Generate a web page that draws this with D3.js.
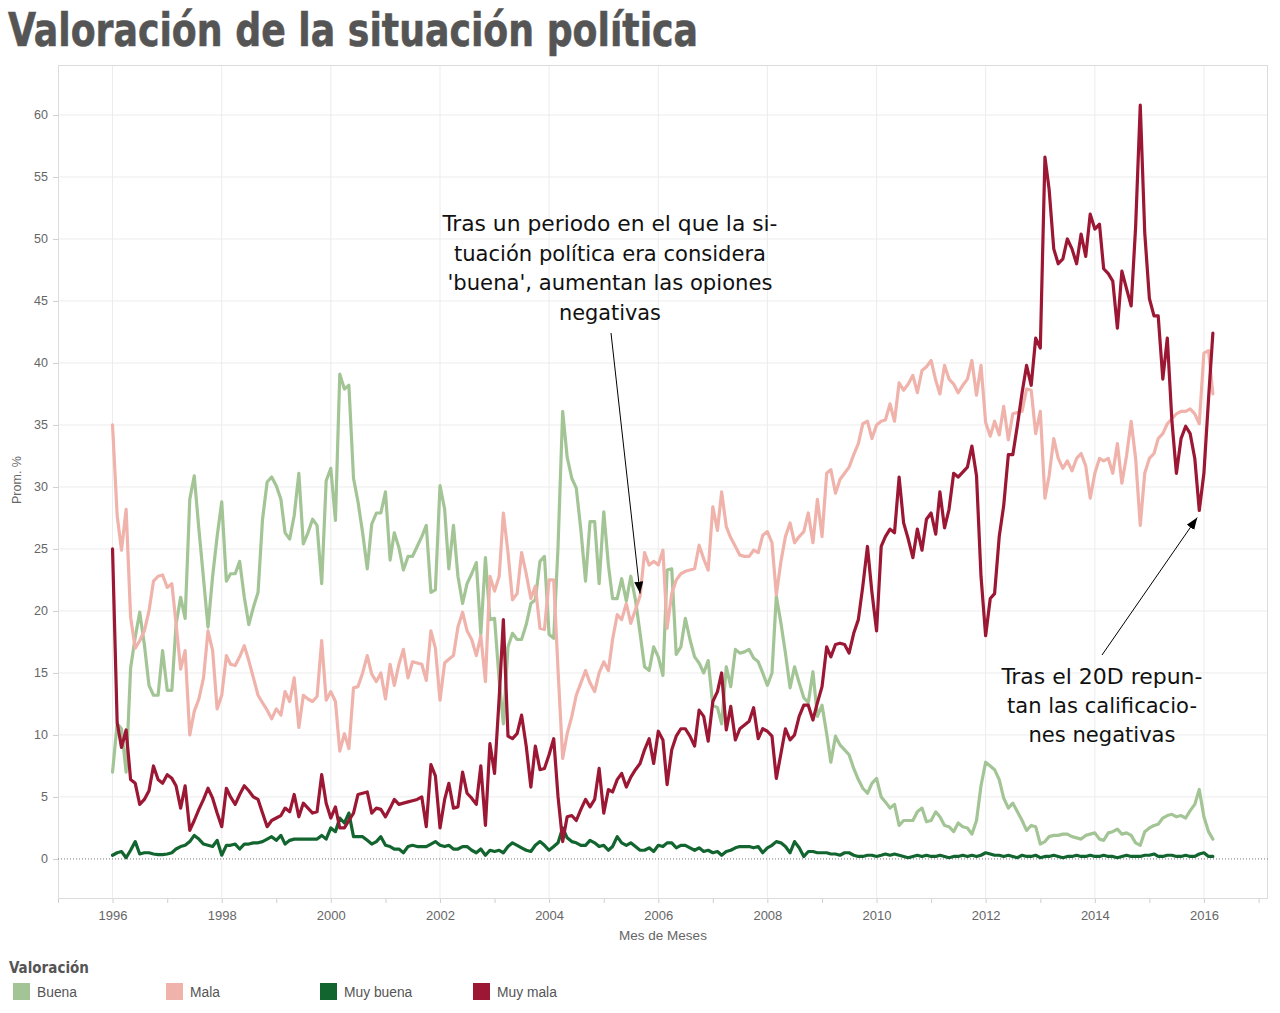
<!DOCTYPE html>
<html><head><meta charset="utf-8">
<script src="https://cdn.jsdelivr.net/npm/d3@7"></script>
<style>body{margin:0;background:#fff;} svg{display:block;}</style>
</head><body><svg id="chart" width="1280" height="1013"></svg>
<script>
// ---------- DATA ----------
const months = d3.timeMonth.range(new Date(1996, 0, 1), new Date(2016, 3, 1)); // Jan 1996 .. Mar 2016

const buena = [
  7.0, 10.9, 10.5, 7.0, 15.4, 17.9, 19.9, 17.3, 14.0, 13.2, 13.2, 16.8,
  13.6, 13.6, 18.9, 21.1, 19.4, 29.0, 30.9, 26.6, 22.6, 18.7, 22.8, 26.0,
  28.8, 22.4, 23.0, 23.0, 24.0, 21.1, 18.9, 20.3, 21.5, 27.4, 30.4, 30.8,
  30.1, 29.0, 26.3, 25.8, 27.7, 31.1, 25.4, 26.3, 27.4, 26.9, 22.2, 30.5,
  31.5, 27.3, 39.1, 37.9, 38.2, 30.7, 28.8, 26.3, 23.4, 27.0, 27.9, 27.9,
  29.6, 24.1, 26.3, 25.1, 23.3, 24.4, 24.4, 25.2, 26.0, 26.9, 21.5, 21.7,
  30.1, 28.2, 23.4, 26.9, 22.8, 20.6, 22.2, 23.0, 23.9, 18.1, 24.3, 19.3,
  19.4, 14.4, 10.9, 17.1, 18.2, 17.7, 17.7, 18.9, 20.6, 20.9, 24.0, 24.4,
  18.1, 17.8, 25.2, 36.1, 32.4, 30.7, 29.9, 26.5, 22.4, 27.2, 27.2, 22.2,
  28.0, 23.7, 21.0, 21.0, 22.6, 20.8, 22.8, 20.9, 18.2, 15.5, 15.2, 17.1,
  16.3, 14.8, 23.3, 23.4, 16.5, 17.1, 19.4, 17.7, 16.3, 15.8, 15.0, 16.0,
  12.4, 12.2, 10.9, 15.5, 13.9, 16.9, 16.6, 16.7, 16.9, 16.2, 15.9, 15.0,
  14.0, 15.0, 21.2, 19.0, 16.6, 13.8, 15.5, 14.2, 13.0, 12.6, 15.1, 11.5,
  12.4, 10.1, 7.8, 9.9, 9.2, 8.8, 8.4, 7.3, 6.4, 5.7, 5.3, 6.1,
  6.5, 5.0, 4.6, 4.1, 4.4, 2.7, 3.1, 3.1, 3.1, 3.8, 4.1, 3.0,
  3.1, 3.8, 3.4, 2.7, 2.6, 2.2, 2.9, 2.6, 2.5, 2.0, 3.1, 5.9,
  7.8, 7.5, 7.2, 6.4, 4.9, 4.1, 4.5, 3.8, 3.1, 2.3, 2.7, 2.6,
  1.2, 1.4, 1.8, 1.9, 1.9, 2.0, 2.0, 1.8, 1.7, 1.6, 1.9, 2.0,
  2.1, 1.6, 1.5, 2.1, 2.2, 2.4, 2.0, 2.1, 1.9, 1.3, 1.1, 2.2,
  2.5, 2.7, 2.8, 3.3, 3.5, 3.6, 3.4, 3.5, 3.3, 3.9, 4.4, 5.6,
  3.4, 2.2, 1.6
];

const mala = [
  35.0, 27.7, 24.9, 28.2, 19.5, 17.0, 17.6, 18.4, 20.0, 22.4, 22.8, 22.9,
  21.9, 22.2, 19.0, 15.3, 16.8, 10.0, 11.9, 12.9, 14.6, 18.4, 16.8, 12.1,
  13.2, 16.4, 15.7, 15.6, 16.3, 17.2, 16.0, 14.6, 13.2, 12.6, 12.0, 11.3,
  12.1, 11.6, 13.5, 12.7, 14.6, 10.6, 13.2, 12.9, 12.7, 13.1, 17.6, 12.8,
  13.5, 12.7, 8.7, 10.1, 8.9, 13.8, 13.9, 15.0, 16.4, 14.9, 14.3, 15.0,
  12.9, 15.7, 14.0, 15.7, 16.9, 14.6, 15.9, 15.8, 15.7, 14.4, 18.4, 17.0,
  12.8, 15.8, 16.1, 16.4, 18.7, 19.9, 18.4, 17.7, 16.4, 18.0, 14.3, 22.8,
  21.6, 22.8, 27.9, 24.7, 20.9, 21.4, 24.7, 23.0, 21.0, 22.0, 18.6, 18.5,
  22.5, 22.5, 15.2, 8.1, 10.1, 11.5, 13.2, 14.2, 15.2, 14.2, 13.5, 15.0,
  15.9, 15.2, 17.7, 19.7, 19.3, 20.6, 19.0, 20.1, 21.2, 24.7, 23.7, 24.0,
  23.7, 24.9, 18.6, 21.4, 22.5, 23.0, 23.2, 23.3, 23.4, 25.3, 24.2, 23.3,
  28.4, 26.5, 29.6, 26.8, 25.9, 25.2, 24.5, 24.4, 24.4, 24.9, 24.7, 26.1,
  26.4, 25.5, 21.3, 24.0, 26.0, 27.1, 25.5, 26.0, 26.4, 27.9, 25.5, 29.0,
  26.0, 31.1, 31.4, 29.5, 30.6, 31.1, 31.6, 32.6, 33.5, 35.1, 35.3, 33.9,
  35.0, 35.3, 35.4, 36.7, 35.3, 38.4, 37.8, 38.3, 39.0, 37.6, 39.4, 39.7,
  40.2, 38.6, 37.5, 39.8, 38.7, 38.3, 37.6, 38.2, 38.7, 40.2, 37.4, 39.8,
  35.2, 34.1, 35.3, 34.2, 36.5, 33.8, 35.9, 36.0, 36.1, 37.9, 37.8, 34.3,
  36.1, 29.1, 30.9, 33.9, 32.3, 31.5, 32.1, 31.3, 32.3, 32.7, 31.7, 29.1,
  31.1, 32.3, 32.1, 32.3, 31.1, 33.5, 30.3, 32.5, 35.3, 32.3, 26.9, 31.1,
  32.3, 32.7, 33.9, 34.3, 35.1, 35.5, 35.9, 36.1, 36.1, 36.3, 35.9, 35.1,
  40.8, 41.0, 37.5
];

const muyBuena = [
  0.3, 0.5, 0.6, 0.1, 0.7, 1.4, 0.4, 0.5, 0.5, 0.4, 0.35, 0.35,
  0.4, 0.5, 0.8, 1.0, 1.1, 1.4, 1.9, 1.6, 1.2, 1.1, 1.0, 1.5,
  0.3, 1.1, 1.1, 1.2, 0.8, 1.2, 1.2, 1.3, 1.3, 1.4, 1.6, 1.8,
  1.5, 1.9, 1.2, 1.5, 1.6, 1.6, 1.6, 1.6, 1.6, 1.6, 1.9, 1.6,
  2.5, 2.2, 3.3, 2.9, 3.7, 1.8, 1.8, 1.8, 1.5, 1.2, 1.4, 1.8,
  1.1, 1.0, 0.8, 0.8, 0.5, 1.0, 1.1, 1.0, 1.0, 1.0, 1.2, 1.4,
  1.1, 1.0, 1.1, 0.8, 0.8, 1.0, 1.0, 0.7, 0.5, 0.8, 0.3, 0.7,
  0.6, 0.7, 0.5, 1.0, 1.3, 1.1, 0.9, 0.7, 0.6, 1.1, 1.4, 1.1,
  0.7, 1.0, 1.3, 2.5, 1.7, 1.4, 1.3, 1.1, 1.1, 1.5, 1.3, 1.0,
  1.1, 0.7, 1.0, 1.8, 1.3, 1.1, 1.3, 1.0, 0.7, 0.7, 0.9, 0.6,
  1.1, 1.0, 1.3, 1.3, 0.9, 1.1, 1.1, 0.9, 0.7, 0.9, 0.6, 0.7,
  0.5, 0.6, 0.3, 0.6, 0.7, 0.9, 1.0, 1.0, 1.0, 0.9, 1.0, 0.5,
  0.9, 1.1, 1.4, 1.3, 1.0, 0.5, 1.4, 0.9, 0.2, 0.6, 0.6, 0.5,
  0.5, 0.5, 0.4, 0.4, 0.3, 0.5, 0.5, 0.3, 0.2, 0.2, 0.3, 0.3,
  0.2, 0.3, 0.4, 0.3, 0.4, 0.3, 0.2, 0.1, 0.2, 0.3, 0.2, 0.3,
  0.2, 0.2, 0.3, 0.2, 0.1, 0.2, 0.2, 0.3, 0.2, 0.3, 0.2, 0.3,
  0.5, 0.4, 0.3, 0.3, 0.2, 0.3, 0.2, 0.1, 0.3, 0.2, 0.2, 0.3,
  0.1, 0.2, 0.2, 0.3, 0.2, 0.1, 0.2, 0.2, 0.3, 0.2, 0.2, 0.3,
  0.2, 0.2, 0.3, 0.2, 0.2, 0.1, 0.2, 0.3, 0.2, 0.2, 0.2, 0.3,
  0.3, 0.4, 0.2, 0.2, 0.3, 0.3, 0.2, 0.2, 0.3, 0.2, 0.2, 0.4,
  0.5, 0.2, 0.2
];

const muyMala = [
  25.0, 11.0, 9.0, 10.4, 6.4, 6.1, 4.4, 4.8, 5.5, 7.5, 6.4, 6.1,
  6.8, 6.5, 5.9, 4.1, 5.9, 2.3, 3.1, 4.0, 4.8, 5.7, 4.9, 3.7,
  2.6, 5.7, 5.0, 4.4, 5.2, 5.9, 5.5, 5.0, 4.8, 3.7, 2.6, 3.1,
  3.3, 3.5, 4.1, 3.8, 5.2, 3.4, 4.5, 4.1, 3.7, 3.8, 6.8, 4.5,
  3.3, 4.2, 2.5, 2.5, 3.1, 3.7, 5.2, 5.3, 5.4, 3.7, 4.1, 4.0,
  3.4, 4.1, 4.8, 4.4, 4.5, 4.6, 4.7, 4.8, 5.0, 2.6, 7.6, 6.7,
  2.5, 4.8, 6.1, 4.1, 4.2, 7.0, 5.3, 4.9, 4.4, 7.5, 2.7, 9.3,
  6.9, 13.0, 19.3, 9.9, 9.7, 10.1, 11.6, 9.1, 5.8, 9.1, 7.2, 7.3,
  8.4, 9.7, 5.0, 1.4, 3.4, 3.5, 3.1, 4.0, 4.8, 4.2, 4.8, 7.3,
  3.7, 5.6, 5.4, 6.4, 6.9, 5.8, 6.6, 7.2, 7.7, 8.8, 9.7, 7.7,
  10.3, 9.6, 6.0, 8.8, 9.9, 10.5, 10.5, 9.9, 9.1, 12.0, 11.5, 9.5,
  12.7, 13.5, 15.0, 10.4, 12.3, 9.6, 10.5, 10.8, 11.1, 12.2, 9.7, 10.5,
  10.3, 9.9, 6.5, 8.5, 10.5, 9.6, 10.0, 11.5, 12.4, 12.4, 11.2, 12.6,
  13.9, 17.1, 16.3, 17.3, 17.4, 17.3, 16.6, 18.2, 19.3, 22.0, 25.2, 21.5,
  18.4, 25.2, 26.0, 26.6, 26.3, 30.8, 27.1, 25.8, 24.3, 26.6, 24.9, 27.4,
  27.9, 26.2, 29.6, 26.7, 28.2, 31.1, 30.8, 31.2, 31.6, 33.3, 30.9, 22.8,
  18.0, 21.0, 21.4, 26.0, 28.5, 32.6, 32.6, 35.0, 37.6, 39.8, 38.2, 42.0,
  41.2, 56.6, 54.0, 49.2, 48.0, 48.4, 50.0, 49.2, 48.0, 50.4, 48.6, 52.0,
  50.8, 51.2, 47.6, 47.2, 46.6, 42.8, 47.4, 46.0, 44.6, 51.0, 60.8, 50.5,
  45.2, 43.8, 43.8, 38.7, 42.0, 35.3, 31.1, 33.9, 34.9, 34.3, 32.3, 28.1,
  31.1, 37.1, 42.4
];

const seriesNames = ["Buena", "Mala", "Muy buena", "Muy mala"];
const seriesValues = [buena, mala, muyBuena, muyMala];
const seriesColors = ["#a3c596", "#f0b3ab", "#12652f", "#9b1733"];
const yTickValues = [0, 5, 10, 15, 20, 25, 30, 35, 40, 45, 50, 55, 60];
const xLabelYears = [1996, 1998, 2000, 2002, 2004, 2006, 2008, 2010, 2012, 2014, 2016];

const titleText = "Valoración de la situación política";
const yAxisTitle = "Prom. %";
const xAxisTitle = "Mes de Meses";
const legendTitle = "Valoración";
const note1Lines = ["Tras un periodo en el que la si-", "tuación política era considera", "'buena', aumentan las opiones", "negativas"];
const note2Lines = ["Tras el 20D repun-", "tan las calificacio-", "nes negativas"];
const note1Target = {date: new Date(2005, 8, 1), value: 21.4};
const note2Target = {date: new Date(2015, 11, 1), value: 27.7};

// ---------- LAYOUT ----------
const L = 58, R = 1268, T = 65, B = 899;
const svg = d3.select("#chart");
const axisFont = "'Liberation Sans', Arial, sans-serif";

const x = d3.scaleTime().domain([new Date(1995, 0, 1), new Date(2017, 2, 5)]).range([L, R]);
const y = d3.scaleLinear().domain([-3.23, 64.03]).range([B, T]);

// Title
svg.append("text").attr("x", 8).attr("y", 46)
  .attr("font-family", "'Liberation Sans Narrow', 'DejaVu Sans Condensed', sans-serif")
  .attr("font-weight", "bold").attr("font-size", 46).attr("fill", "#555")
  .attr("stroke", "#555").attr("stroke-width", 0.6)
  .attr("textLength", 690).attr("lengthAdjust", "spacingAndGlyphs")
  .text(titleText);

// Gridlines
const grid = svg.append("g");
grid.selectAll("line.h").data(yTickValues.filter(d => d !== 0)).join("line")
  .attr("x1", L).attr("x2", R).attr("y1", d => y(d)).attr("y2", d => y(d))
  .attr("stroke", "#ececec").attr("stroke-width", 1);
grid.selectAll("line.v").data(xLabelYears).join("line")
  .attr("x1", d => x(new Date(d, 0, 1))).attr("x2", d => x(new Date(d, 0, 1)))
  .attr("y1", T).attr("y2", B)
  .attr("stroke", "#ececec").attr("stroke-width", 1);

// Frame
svg.append("rect").attr("x", L + 0.5).attr("y", T + 0.5).attr("width", R - L - 1).attr("height", B - T - 1)
  .attr("fill", "none").attr("stroke", "#dcdcdc");

// Zero line
svg.append("line").attr("x1", L).attr("x2", R).attr("y1", y(0)).attr("y2", y(0))
  .attr("stroke", "#777").attr("stroke-width", 1).attr("stroke-dasharray", "1,2");

// Y axis
const yAxis = svg.append("g").attr("transform", `translate(${L},0)`)
  .call(d3.axisLeft(y).tickValues(yTickValues).tickSize(5).tickPadding(5));
yAxis.select(".domain").remove();
yAxis.selectAll("line").attr("stroke", "#cfcfcf");
yAxis.selectAll("text").attr("font-family", axisFont).attr("font-size", 12.5).attr("fill", "#666");

svg.append("text").attr("transform", `translate(21,${(T + B) / 2 - 2}) rotate(-90)`)
  .attr("text-anchor", "middle").attr("font-family", axisFont).attr("font-size", 12.5).attr("fill", "#666")
  .text(yAxisTitle);

// X axis
const xAxis = svg.append("g").attr("transform", `translate(0,${B})`)
  .call(d3.axisBottom(x).ticks(d3.timeYear.every(1)).tickSize(4).tickPadding(8)
    .tickFormat(d => xLabelYears.includes(d.getFullYear()) ? d3.timeFormat("%Y")(d) : ""));
xAxis.select(".domain").remove();
xAxis.selectAll("line").attr("stroke", "#cfcfcf");
xAxis.selectAll("text").attr("font-family", axisFont).attr("font-size", 13).attr("fill", "#666");

svg.append("text").attr("x", (L + R) / 2).attr("y", 940)
  .attr("text-anchor", "middle").attr("font-family", axisFont).attr("font-size", 13.5).attr("fill", "#666")
  .text(xAxisTitle);

// Lines
const line = d3.line().x((d, i) => x(months[i])).y(d => y(d));
svg.append("g").selectAll("path").data(seriesValues).join("path")
  .attr("d", d => line(d))
  .attr("fill", "none")
  .attr("stroke", (d, i) => seriesColors[i])
  .attr("stroke-width", 3.2)
  .attr("stroke-linejoin", "round").attr("stroke-linecap", "round");

// Annotations
const defs = svg.append("defs");
defs.append("marker").attr("id", "arrow").attr("viewBox", "0 -5 12 10")
  .attr("refX", 12).attr("refY", 0).attr("markerWidth", 12).attr("markerHeight", 10)
  .attr("markerUnits", "userSpaceOnUse").attr("orient", "auto")
  .append("path").attr("d", "M0,-4.5L12,0L0,4.5Z").attr("fill", "#000");

const noteFont = "'DejaVu Sans Condensed', 'DejaVu Sans', sans-serif";
function note(lines, cx, y0, lh, widths) {
  const g = svg.append("g");
  lines.forEach((t, i) => {
    g.append("text").attr("x", cx).attr("y", y0 + i * lh).attr("text-anchor", "middle")
      .attr("font-family", noteFont).attr("font-size", 22).attr("fill", "#111")
      .attr("textLength", widths[i]).attr("lengthAdjust", "spacingAndGlyphs")
      .text(t);
  });
}
note(note1Lines, 610, 231, 29.5, [335, 312, 325, 102]);
note(note2Lines, 1102, 684, 29, [201, 190, 147]);

svg.append("line").attr("x1", 611).attr("y1", 333)
  .attr("x2", x(note1Target.date)).attr("y2", y(note1Target.value))
  .attr("stroke", "#000").attr("stroke-width", 1).attr("marker-end", "url(#arrow)");
svg.append("line").attr("x1", 1102).attr("y1", 655)
  .attr("x2", x(note2Target.date) - 2).attr("y2", y(note2Target.value) + 2)
  .attr("stroke", "#000").attr("stroke-width", 1).attr("marker-end", "url(#arrow)");

// Legend
svg.append("text").attr("x", 9).attr("y", 973)
  .attr("font-family", "'Liberation Sans Narrow', 'DejaVu Sans Condensed', sans-serif")
  .attr("font-weight", "bold").attr("font-size", 15).attr("fill", "#555").text(legendTitle);
const legendX = [13, 166, 320, 473];
const lg = svg.append("g").selectAll("g").data(seriesNames).join("g")
  .attr("transform", (d, i) => `translate(${legendX[i]},983)`);
lg.append("rect").attr("width", 17).attr("height", 17).attr("fill", (d, i) => seriesColors[i]);
lg.append("text").attr("x", 24).attr("y", 13.5).attr("font-family", axisFont).attr("font-size", 13.8)
  .attr("fill", "#555").text(d => d);
</script>
</body></html>
